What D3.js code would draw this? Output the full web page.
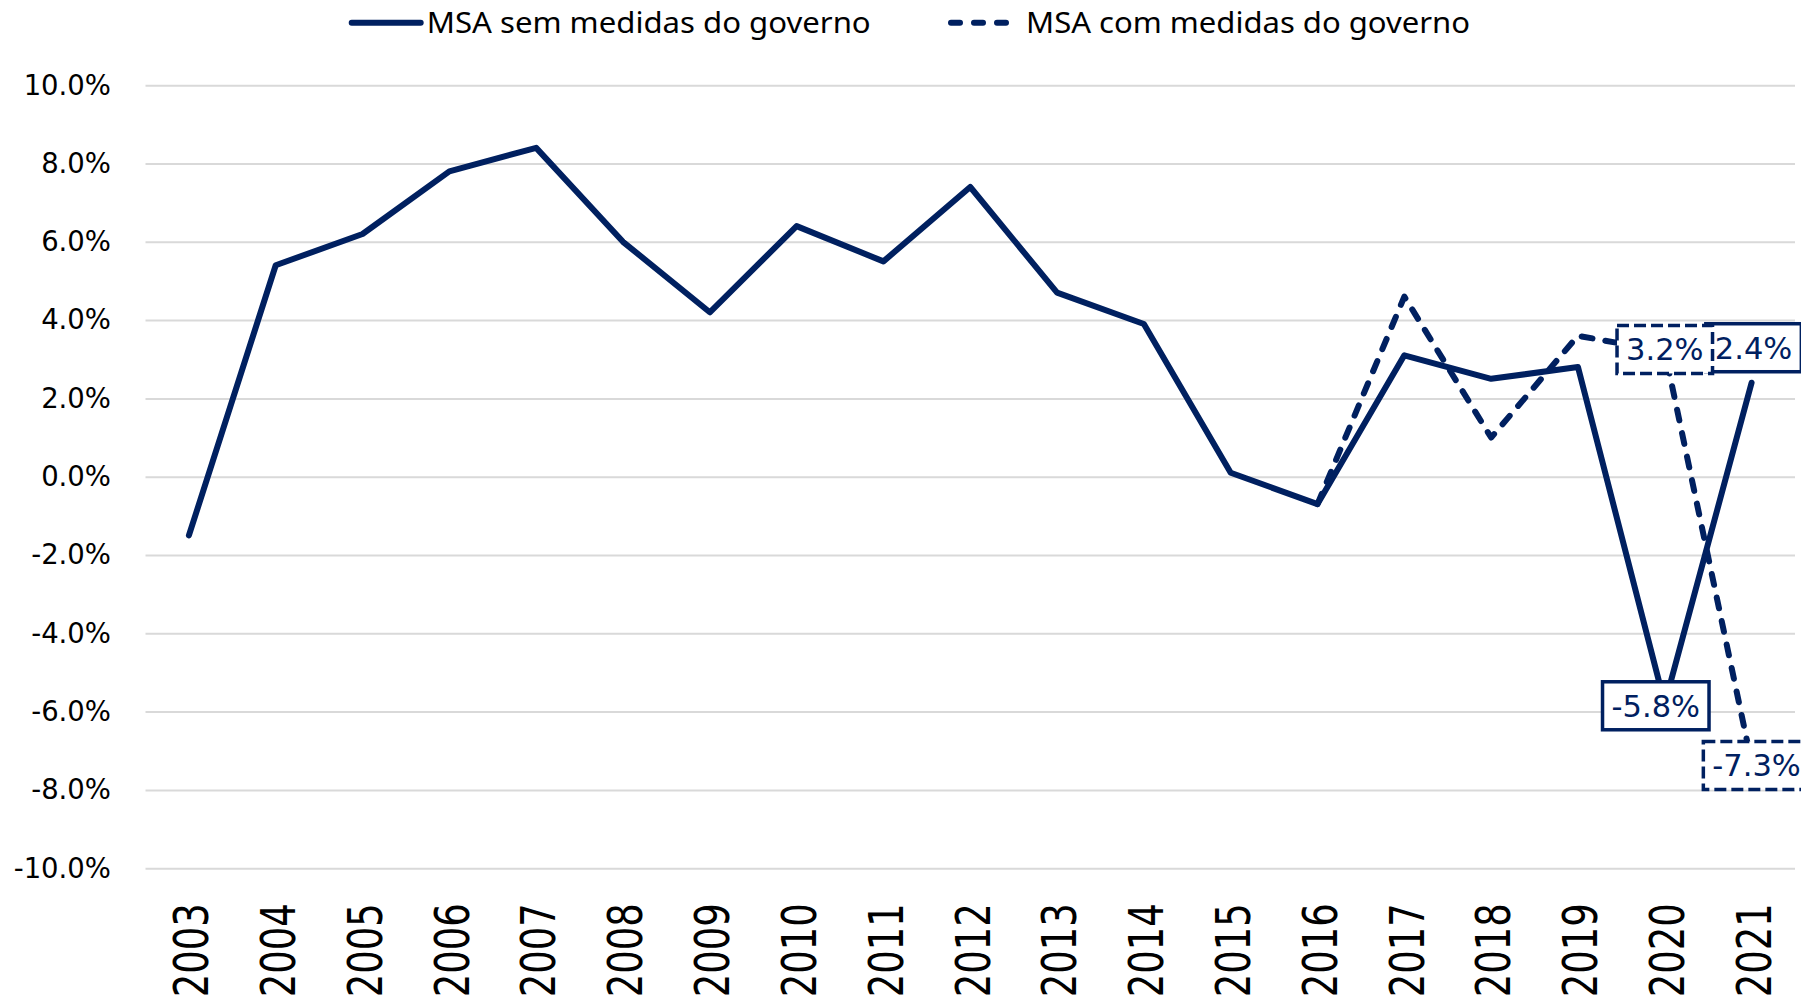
<!DOCTYPE html>
<html>
<head>
<meta charset="utf-8">
<script src="https://cdn.jsdelivr.net/npm/d3@7"></script>
<style>
	body { margin: 0; background: #fff; }
	svg { display: block; }
</style>
</head>
<body>
<svg></svg>
<script>
var years = ['2003','2004','2005','2006','2007','2008','2009','2010','2011','2012','2013','2014','2015','2016','2017','2018','2019','2020','2021'];
var semMedidas = [-1.5, 5.4, 6.2, 7.8, 8.4, 6.0, 4.2, 6.4, 5.5, 7.4, 4.7, 3.9, 0.1, -0.7, 3.1, 2.5, 2.8, -5.8, 2.4];
var comMedidas = [null, null, null, null, null, null, null, null, null, null, null, null, null, -0.7, 4.6, 1.0, 3.6, 3.2, -7.3];
var seriesNames = ['MSA sem medidas do governo', 'MSA com medidas do governo'];
var yTicks = [-10, -8, -6, -4, -2, 0, 2, 4, 6, 8, 10];
// years that get a data label
var labelYears = ['2020', '2021'];

var width = 1801;
var height = 1003;
var navy = '#002060';

var svg = d3.select('svg')
			.attr('width', width)
			.attr('height', height);

var plot = {
	left: 145.5,
	right: 1795,
	top: 85.2,
	bottom: 868.2
}

var xScale = d3.scaleBand()
			   .domain(years)
			   .range([plot.left, plot.right]);

var yScale = d3.scaleLinear()
			   .domain([-10, 10])
			   .range([plot.bottom, plot.top]);

var cx = function(y){ return xScale(y) + xScale.bandwidth() / 2; };

//y-axis with gridlines
var yAxis = svg.append('g')
	.attr('class', 'y-axis')
	.attr('transform', 'translate(' + plot.left + ',0)')
	.call(d3.axisLeft(yScale)
		.tickValues(yTicks)
		.tickSize(-(plot.right - plot.left))
		.tickPadding(34.5)
		.tickFormat(function(d){ return d.toFixed(1) + '%'; }));
yAxis.select('.domain').remove();
yAxis.selectAll('line')
	.attr('stroke', '#d9d9d9')
	.attr('stroke-width', 2);
yAxis.selectAll('text')
	.attr('font-family', 'DejaVu Sans')
	.attr('font-size', 27.5)
	.attr('fill', '#000');

//x-axis
var xAxis = svg.append('g')
	.attr('class', 'x-axis')
	.attr('transform', 'translate(0,' + plot.bottom + ')')
	.call(d3.axisBottom(xScale).tickSize(0));
xAxis.select('.domain').remove();
xAxis.selectAll('text')
	.attr('font-family', 'DejaVu Sans')
	.attr('font-size', 37)
	.attr('fill', '#000')
	.attr('text-anchor', 'end')
	.attr('x', 0)
	.attr('y', 0)
	.attr('dy', '0.36em')
	.attr('transform', 'translate(2,35) rotate(-90) scale(1,1.3)');

// lines
var line = d3.line()
	.defined(function(d){ return d.v !== null; })
	.x(function(d){ return cx(d.year); })
	.y(function(d){ return yScale(d.v); });

var semData = years.map(function(y, i){ return {year: y, v: semMedidas[i]}; });
var comData = years.map(function(y, i){ return {year: y, v: comMedidas[i]}; });

svg.append('path')
	.datum(semData)
	.attr('d', line)
	.attr('fill', 'none')
	.attr('stroke', navy)
	.attr('stroke-width', 6)
	.attr('stroke-linejoin', 'round')
	.attr('stroke-linecap', 'round');

svg.append('path')
	.datum(comData)
	.attr('d', line)
	.attr('fill', 'none')
	.attr('stroke', navy)
	.attr('stroke-width', 6)
	.attr('stroke-dasharray', '11,13')
	.attr('stroke-linejoin', 'round')
	.attr('stroke-linecap', 'round');

// data labels (solid first, dashed drawn over)
var labels = [];
labelYears.forEach(function(y){
	var i = years.indexOf(y);
	labels.push({year: y, v: semMedidas[i], dashed: false});
});
labelYears.forEach(function(y){
	var i = years.indexOf(y);
	labels.push({year: y, v: comMedidas[i], dashed: true});
});
var offsets = {
	'false2020': [-9, 2],
	'false2021': [2, -35],
	'true2020': [0, -2],
	'true2021': [5, 3]
};

var lab = svg.selectAll('.dlabel')
	.data(labels)
	.enter()
	.append('g')
	.attr('class', 'dlabel')
	.attr('transform', function(d){
		var o = offsets[String(d.dashed) + d.year];
		return 'translate(' + (cx(d.year) + o[0]) + ',' + (yScale(d.v) + o[1]) + ')';
	});

var rects = lab.append('rect')
	.attr('fill', '#fff')
	.attr('stroke', navy)
	.attr('stroke-width', 3.5)
	.attr('stroke-dasharray', function(d){ return d.dashed ? '12,5' : null; });

lab.append('text')
	.attr('text-anchor', 'middle')
	.attr('dy', '0.36em')
	.attr('font-family', 'DejaVu Sans')
	.attr('font-size', 30.5)
	.attr('fill', navy)
	.text(function(d){ return d.v.toFixed(1) + '%'; });

// size each box round its text
lab.each(function(){
	var g = d3.select(this);
	var w = g.select('text').node().getComputedTextLength() + 18;
	g.select('rect')
		.attr('x', -w / 2)
		.attr('y', -24)
		.attr('width', w)
		.attr('height', 48);
});

// legend
var legendX = [351.7, 951];
var leg = svg.selectAll('.legend')
	.data(seriesNames)
	.enter()
	.append('g')
	.attr('class', 'legend')
	.attr('transform', function(d, i){ return 'translate(' + legendX[i] + ',22.7)'; });

leg.append('line')
	.attr('x1', 0)
	.attr('x2', 69)
	.attr('stroke', navy)
	.attr('stroke-width', 6)
	.attr('stroke-linecap', 'round')
	.attr('stroke-dasharray', function(d, i){ return i == 1 ? '9,14' : null; });

leg.append('text')
	.attr('x', 75)
	.attr('y', 10.5)
	.attr('font-family', 'Noto Sans')
	.attr('font-size', 29)
	.attr('fill', '#000')
	.attr('textLength', 444)
	.attr('lengthAdjust', 'spacingAndGlyphs')
	.text(function(d){ return d; });
</script>
</body>
</html>
